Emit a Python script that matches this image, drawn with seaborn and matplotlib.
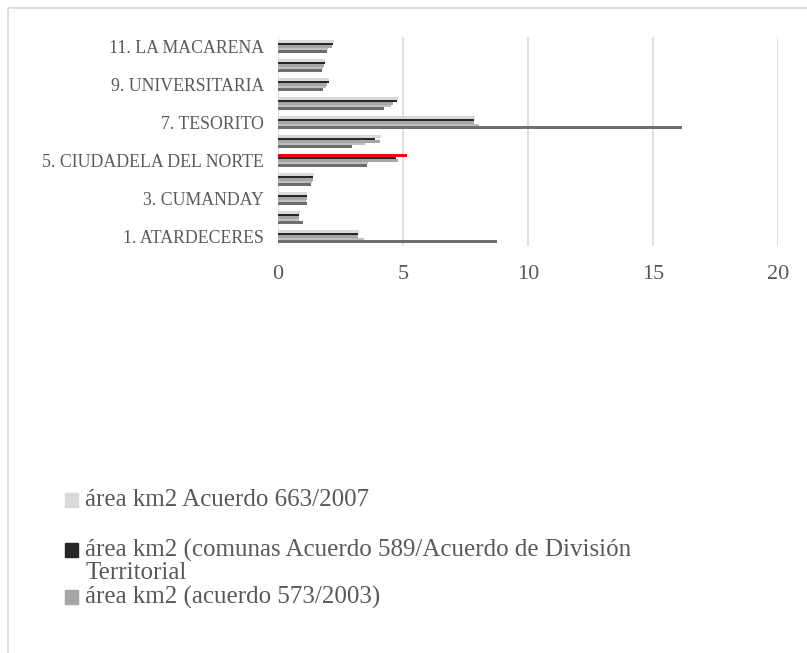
import numpy as np
import pandas as pd
import seaborn as sns
import matplotlib.pyplot as plt
from matplotlib.patches import Rectangle

# comunas de Manizales (solo las impares se rotulan en el eje)
comunas = ["1. ATARDECERES", "2. SAN JOSÉ", "3. CUMANDAY", "4. LA ESTACIÓN",
           "5. CIUDADELA DEL NORTE", "6. ECOTURÍSTICO CERRO DE ORO", "7. TESORITO",
           "8. PALOGRANDE", "9. UNIVERSITARIA", "10. LA FUENTE", "11. LA MACARENA"]

area_663 = [3.24, 0.88, 1.17, 1.44, 5.15, 4.12, 7.87, 4.80, 2.05, 1.88, 2.25]
area_589 = [3.20, 0.85, 1.15, 1.41, 4.70, 3.89, 7.83, 4.77, 2.04, 1.87, 2.21]
area_573 = [3.20, 0.85, 1.14, 1.38, 4.79, 4.09, 7.85, 4.59, 1.95, 1.84, 2.17]
area_s4 = [3.45, 0.85, 1.13, 1.37, 3.61, 3.48, 8.03, 4.50, 1.90, 1.80, 2.00]
area_s5 = [8.76, 0.99, 1.15, 1.33, 3.55, 2.96, 16.17, 4.24, 1.80, 1.75, 1.95]

series = ["área km2 Acuerdo 663/2007",
          "área km2 (comunas Acuerdo 589/Acuerdo de División\nTerritorial",
          "área km2 (acuerdo 573/2003)",
          "serie 4", "serie 5"]
colors = ["#d9d9d9", "#262626", "#a5a5a5", "#bfbfbf", "#6e6e6e"]

values = [area_663, area_589, area_573, area_s4, area_s5]
df = pd.DataFrame({
    "comuna": comunas * len(series),
    "serie": np.repeat(series, len(comunas)),
    "area": np.concatenate(values),
})

plt.rcParams["font.family"] = ["Liberation Serif", "DejaVu Serif"]
text_color = "#595959"

fig = plt.figure(figsize=(8.07, 6.53), dpi=100)
W, H = 807, 653
ax = fig.add_axes([278 / W, 1 - 246 / H, 500 / W, 209 / H])

order = comunas[::-1]
sns.barplot(data=df, y="comuna", x="area", hue="serie", order=order,
            hue_order=series, palette=colors, orient="h", width=0.65,
            saturation=1, legend=False, ax=ax)

# barra resaltada en rojo (Ciudadela del Norte)
red = ax.containers[0][order.index("5. CIUDADELA DEL NORTE")]
h = red.get_height()
red.set_facecolor("#ff0000")
red.set_y(red.get_y() - 0.2 * h)
red.set_height(h * 1.4)

ax.set_xlim(0, 20)
ax.set_xticks([0, 5, 10, 15, 20])
ax.set_ylim(len(order) - 0.5, -0.5)
ax.set_yticks(range(len(order)))
ax.set_yticklabels([c if int(c.split(".")[0]) % 2 == 1 else "" for c in order])
ax.grid(axis="x", color="#d9d9d9", linewidth=1.2)
ax.set_axisbelow(True)
for s in ax.spines.values():
    s.set_visible(False)
ax.tick_params(axis="x", length=0, pad=14, labelsize=16, labelcolor=text_color)
ax.tick_params(axis="y", length=0, pad=10, labelsize=12.8, labelcolor=text_color)
ax.set_xlabel("")
ax.set_ylabel("")

# borde del área del gráfico
fig.add_artist(Rectangle((8 / W, -0.1), 1.2, 1 - 8 / H + 0.1,
                         transform=fig.transFigure, fill=False,
                         edgecolor="#d9d9d9", linewidth=1.2))

# leyenda (solo las tres entradas visibles)
legend_y = [500, 550, 597]
for lab, col, y in zip(series[:3], colors[:3], legend_y):
    fig.add_artist(Rectangle((65 / W, 1 - (y + 7) / H), 13 / W, 14 / H,
                             transform=fig.transFigure, color=col))
    for i, line in enumerate(lab.split("\n")):
        fig.text(85 / W, 1 - (y + 23 * i) / H, line, va="center",
                 fontsize=18, color=text_color)

fig.savefig("out.png", dpi=100)
